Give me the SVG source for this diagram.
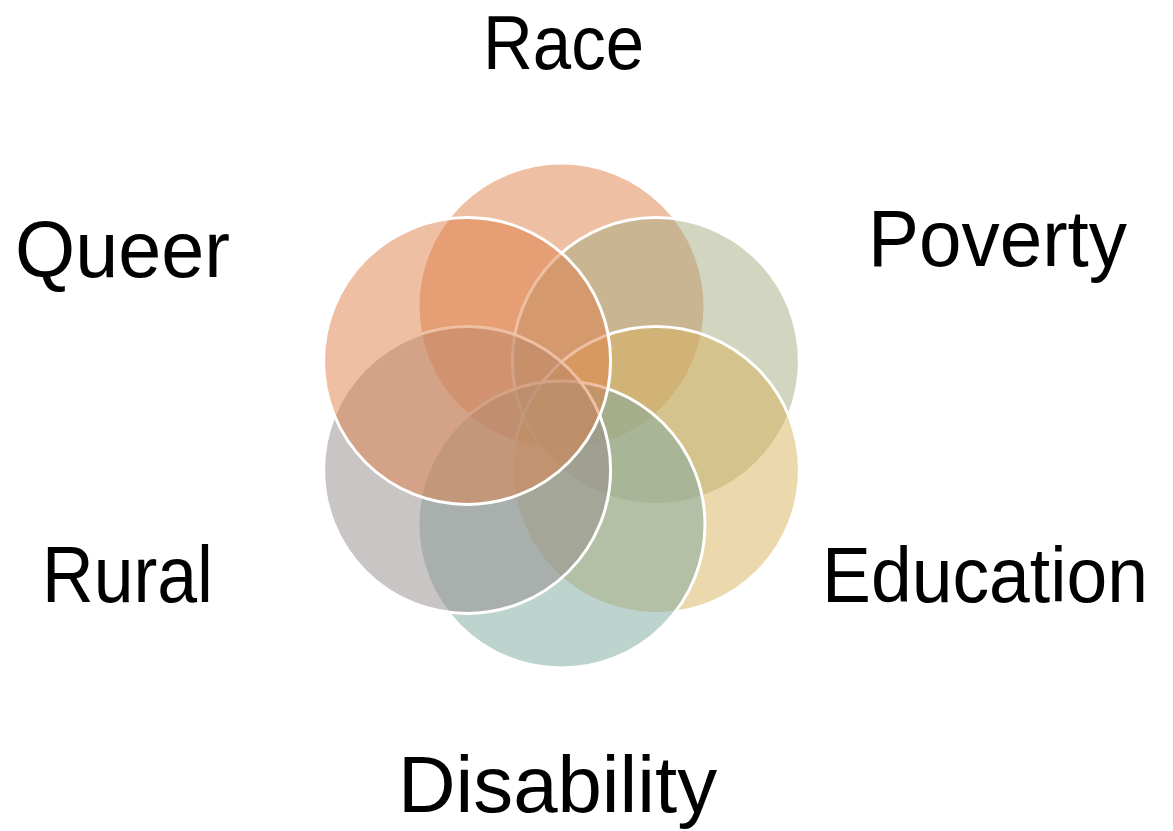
<svg xmlns="http://www.w3.org/2000/svg" width="1173" height="831" viewBox="0 0 1173 831">
<style>
.c{stroke:#fff;stroke-width:3;fill-opacity:0.5}
.t{font-family:"Liberation Sans",Arial,sans-serif;font-size:80px;fill:#000}
</style>
<rect width="1173" height="831" fill="#fff"/>
<g id="race"><circle class="c" cx="561.5" cy="306.5" r="143.5" fill="#DD8047"/><text class="t" x="483" y="69" style="font-size:76px" textLength="161" lengthAdjust="spacingAndGlyphs">Race</text></g>
<g id="poverty"><circle class="c" cx="655.9" cy="361" r="143.5" fill="#A5AB81"/><text class="t" x="868" y="266" textLength="259" lengthAdjust="spacingAndGlyphs">Poverty</text></g>
<g id="education"><circle class="c" cx="655.9" cy="470" r="143.5" fill="#D8B25C"/><text class="t" x="822" y="602" style="font-size:78px" textLength="326" lengthAdjust="spacingAndGlyphs">Education</text></g>
<g id="disability"><circle class="c" cx="561.5" cy="524.5" r="143.5" fill="#7BA79D"/><text class="t" x="398" y="812" textLength="319" lengthAdjust="spacingAndGlyphs">Disability</text></g>
<g id="rural"><circle class="c" cx="467.1" cy="470" r="143.5" fill="#968C8C"/><text class="t" x="42" y="602" textLength="171" lengthAdjust="spacingAndGlyphs">Rural</text></g>
<g id="queer"><circle class="c" cx="467.1" cy="361" r="143.5" fill="#DD8047"/><text class="t" x="15" y="277" textLength="215" lengthAdjust="spacingAndGlyphs">Queer</text></g>
<g id="connectors"></g>
</svg>
